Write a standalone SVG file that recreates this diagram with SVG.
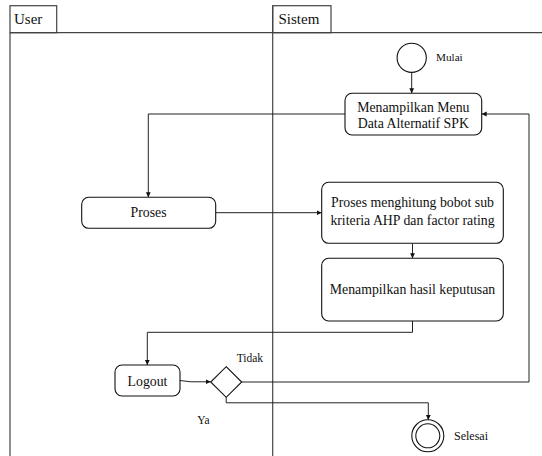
<svg xmlns="http://www.w3.org/2000/svg" width="542" height="456" viewBox="0 0 542 456">
<defs>
<marker id="ah" markerWidth="6" markerHeight="6" refX="5" refY="3" orient="auto" markerUnits="userSpaceOnUse">
<path d="M0,0.6 L5,3 L0,5.4 Z" fill="#111"/>
</marker>
<style>
.pool{fill:none;stroke:#444;stroke-width:1.2}
.node{fill:#fff;stroke:#111;stroke-width:1.1}
.conn{fill:none;stroke:#222;stroke-width:1}
.t{font-family:"Liberation Serif","Times New Roman",serif;fill:#111}
.n{font-size:13.8px;text-anchor:middle}
.lab{font-size:11.5px}
.hdr{font-size:15px}
</style>
</defs>
<g id="pools">
<line class="pool" x1="10" y1="32.7" x2="542" y2="32.7"/>
<line class="pool" x1="10" y1="32.7" x2="10" y2="456"/>
<line class="pool" x1="272.7" y1="5.7" x2="272.7" y2="456"/>
<rect class="pool" x="10" y="5.7" width="46.7" height="27"/>
<rect class="pool" x="272.7" y="5.7" width="58.3" height="27"/>
<text class="t hdr" x="14" y="24">User</text>
<text class="t hdr" x="278.5" y="24">Sistem</text>
</g>
<g id="connectors">
<line class="conn" x1="411.7" y1="72.5" x2="411.7" y2="93.3" marker-end="url(#ah)"/>
<polyline class="conn" points="345,114 148.3,114 148.3,197.3" marker-end="url(#ah)"/>
<line class="conn" x1="215.7" y1="212.7" x2="321.7" y2="212.7" marker-end="url(#ah)"/>
<line class="conn" x1="412.5" y1="243.3" x2="412.5" y2="258.3" marker-end="url(#ah)"/>
<polyline class="conn" points="412.5,321 412.5,332.3 147.3,332.3 147.3,365" marker-end="url(#ah)"/>
<polyline class="conn" points="180,380.5 191,381.8 210.7,381.8" marker-end="url(#ah)"/>
<polyline class="conn" points="241.7,382 529,382 529,114 481.7,114" marker-end="url(#ah)"/>
<polyline class="conn" points="226.2,397.3 226.2,402.8 428.3,402.8 428.3,420" marker-end="url(#ah)"/>
</g>
<g id="start">
<circle class="node" cx="411.7" cy="57.8" r="14.6"/>
<text class="t lab" x="436" y="60.8" style="font-size:11.2px">Mulai</text>
</g>
<g id="menu">
<rect class="node" x="345" y="93.3" width="136.7" height="41.7" rx="7"/>
<text class="t n" x="413.3" y="111.5">Menampilkan Menu</text>
<text class="t n" x="413.3" y="127.5">Data Alternatif SPK</text>
</g>
<g id="proses">
<rect class="node" x="81.7" y="197.3" width="134" height="31" rx="7"/>
<text class="t n" x="148.5" y="217">Proses</text>
</g>
<g id="hitung">
<rect class="node" x="321.7" y="182.3" width="181.6" height="61" rx="7"/>
<text class="t n" x="412.5" y="206.5">Proses menghitung bobot sub</text>
<text class="t n" x="412.5" y="224.5">kriteria AHP dan factor rating</text>
</g>
<g id="hasil">
<rect class="node" x="321.7" y="258.3" width="181.6" height="62.7" rx="7"/>
<text class="t n" x="412.5" y="294">Menampilkan hasil keputusan</text>
</g>
<g id="logout">
<rect class="node" x="115" y="365" width="65" height="31" rx="7"/>
<text class="t n" x="147.5" y="385.5">Logout</text>
</g>
<g id="decision">
<polygon class="node" points="226.2,366.7 241.7,382 226.2,397.3 210.7,382"/>
<text class="t lab" x="236.7" y="362.3">Tidak</text>
<text class="t lab" x="197.3" y="424">Ya</text>
</g>
<g id="end">
<circle class="node" cx="427.8" cy="435.8" r="16"/>
<circle class="node" cx="427.8" cy="435.8" r="12"/>
<text class="t lab" x="454" y="439.5" style="font-size:12px">Selesai</text>
</g>
</svg>
